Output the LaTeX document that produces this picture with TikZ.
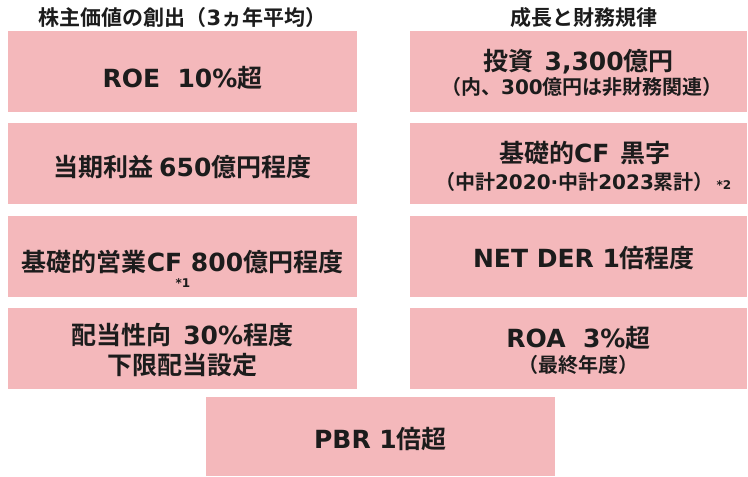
\documentclass[tikz,border=0pt]{standalone}
\usepackage{fontspec}
\setmainfont{Noto Sans CJK JP}[BoldFont={Noto Sans CJK JP Bold}]
\newfontfamily\lat{DejaVu Sans}
\definecolor{boxpink}{RGB}{244,184,187}
\definecolor{ink}{RGB}{28,28,28}
\tikzset{
  box/.style={fill=boxpink, draw=none, minimum height=81pt, inner sep=0pt},
  lbox/.style={box, minimum width=349pt},
  rbox/.style={box, minimum width=337pt},
  head/.style={text=ink, font=\bfseries\fontsize{21}{24}\selectfont},
  big/.style={text=ink, inner sep=0pt, font=\bfseries\fontsize{25}{30}\selectfont, align=center},
  sub/.style={text=ink, inner sep=0pt, font=\bfseries\fontsize{20}{22}\selectfont},
  note/.style={text=ink, inner sep=0pt, font=\bfseries\fontsize{12}{12}\selectfont}
}
\begin{document}
\begin{tikzpicture}[x=1pt, y=-1pt]
  \useasboundingbox (0,0) rectangle (748,477);

  % headers
  \node[head] (hleft) at (182.5,18) {株主価値の創出（{\lat 3}ヵ年平均）};
  \node[head] (hright) at (584,18) {成長と財務規律};

  % left column
  \node[lbox] (l1) at (182.5,71.5) {};
  \node[lbox] (l2) at (182.5,163.5) {};
  \node[lbox] (l3) at (182.5,256.5) {};
  \node[lbox] (l4) at (182.5,348.5) {};
  \node[big] (l1t) at (182.5,78) {{\lat ROE\ \ 10\%}超};
  \node[big] (l2t) at (182.5,167) {当期利益 {\lat 650}億円程度};
  \node[big] (l3t) at (182.5,262) {基礎的営業{\lat CF 800}億円程度};
  \node[note] (l3n) at (183,283) {\lat *1};
  \node[big] (l4t) at (182.5,350) {配当性向\ \ {\lat 30\%}程度\\下限配当設定};

  % right column
  \node[rbox] (r1) at (578.5,71.5) {};
  \node[rbox] (r2) at (578.5,163.5) {};
  \node[rbox] (r3) at (578.5,256.5) {};
  \node[rbox] (r4) at (578.5,348.5) {};
  \node[big] (r1t) at (578.5,62) {投資\ \ {\lat 3,300}億円};
  \node[sub] (r1s) at (582,87) {（内、{\lat 300}億円は非財務関連）};
  \node[big] (r2t) at (585,153) {基礎的{\lat CF}\ \ 黒字};
  \node[sub] (r2s) at (574.5,182) {（中計{\lat 2020·}中計{\lat 2023}累計）};
  \node[note] (r2n) at (724,185) {\lat *2};
  \node[big] (r3t) at (584,258) {{\lat NET DER 1}倍程度};
  \node[big] (r4t) at (578.5,338) {{\lat ROA\ \ 3\%}超};
  \node[sub] (r4s) at (578.5,365) {（最終年度）};

  % bottom
  \node[box, minimum width=349pt, minimum height=79pt] (pbr) at (380.5,436.5) {};
  \node[big] (pbrt) at (380.5,439) {{\lat PBR 1}倍超};
\end{tikzpicture}
\end{document}
